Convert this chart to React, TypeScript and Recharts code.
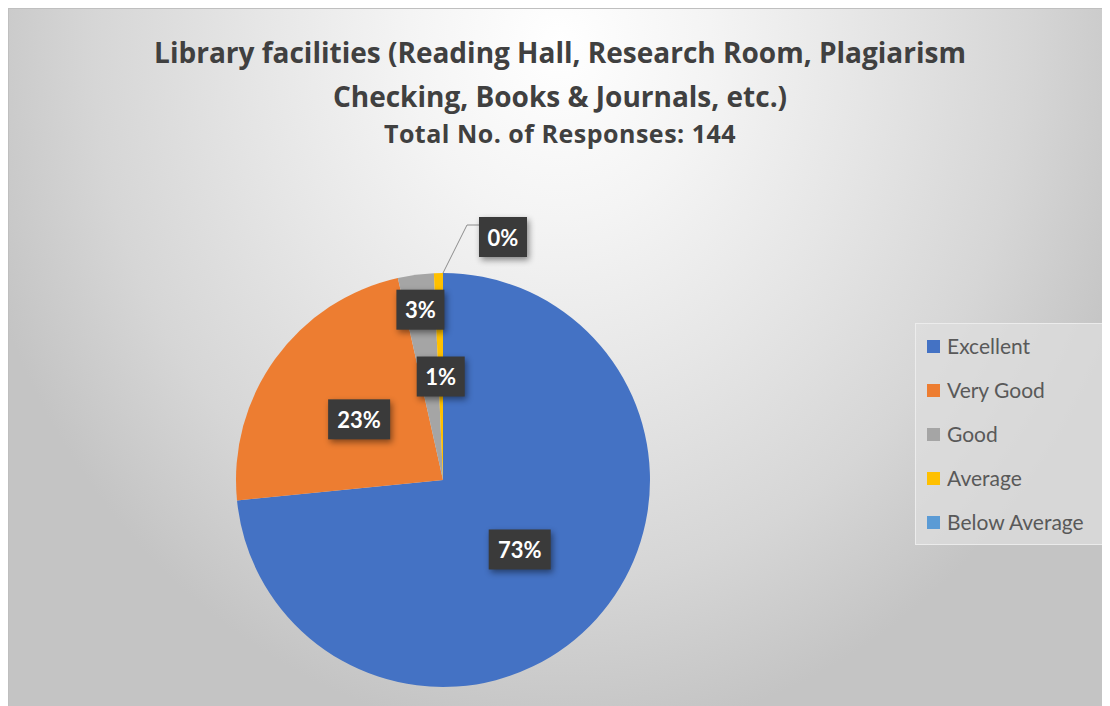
import React from "react";
import { PieChart, Pie, Cell, Legend } from "recharts";

const categories = ["Excellent", "Very Good", "Good", "Average", "Below Average"];
const responses = [105, 33, 4, 1, 0];
const colors = ["#4472C4", "#ED7D31", "#A5A5A5", "#FFC000", "#5B9BD5"];
const titleLines = [
  "Library facilities (Reading Hall, Research Room, Plagiarism",
  "Checking, Books & Journals, etc.)",
];
const subtitle = "Total No. of Responses: 144";

const data = categories.map((name, i) => ({ name, value: responses[i], fill: colors[i] }));

// how far in (fraction of radius) each inside label sits
const labelRadius: Record<string, number> = {
  Excellent: 0.5,
  "Very Good": 0.5,
  Good: 0.83,
  Average: 0.5,
};

const FONT = "Lato, 'Open Sans', sans-serif";
const TITLE_FONT = "'Open Sans', Lato, sans-serif";
const RAD = Math.PI / 180;

function renderLabel(props: any) {
  const { cx, cy, midAngle, outerRadius, percent, name } = props;
  const text = `${Math.round(percent * 100)}%`;
  const w = text.length > 2 ? 62 : 48;
  const h = 40;
  const cos = Math.cos(-midAngle * RAD);
  const sin = Math.sin(-midAngle * RAD);
  let x: number;
  let y: number;
  let leader: React.ReactNode = null;
  if (percent === 0) {
    const ex = cx + outerRadius * cos;
    const ey = cy + outerRadius * sin;
    x = ex + 36 + w / 2;
    y = ey - 36;
    leader = (
      <polyline
        points={`${ex},${ey} ${ex + 24},${ey - 48} ${ex + 36},${ey - 48}`}
        fill="none"
        stroke="#8c8c8c"
        strokeWidth={1}
      />
    );
  } else {
    const r = outerRadius * (labelRadius[name] ?? 0.5);
    x = cx + r * cos;
    y = cy + r * sin;
  }
  return (
    <g key={`lbl-${name}`}>
      {leader}
      <rect
        x={x - w / 2}
        y={y - h / 2}
        width={w}
        height={h}
        fill="#3a3a3a"
        style={{ filter: "drop-shadow(2px 3px 3px rgba(0,0,0,0.45))" }}
      />
      <text
        x={x}
        y={y}
        textAnchor="middle"
        dominantBaseline="central"
        fill="#ffffff"
        fontFamily={FONT}
        fontWeight={700}
        fontSize={22}
      >
        {text}
      </text>
    </g>
  );
}

function renderLegend(props: any) {
  const payload = props.payload || [];
  // keep the legend in series order, not the order recharts hands back
  const items = categories.map((name, i) => {
    const p = payload.find((e: any) => e.value === name);
    return { name, color: (p && p.color) || colors[i] };
  });
  return (
    <div
      style={{
        width: 193,
        height: 222,
        boxSizing: "border-box",
        background: "rgba(222,222,222,0.75)",
        border: "1px solid rgba(240,240,240,0.8)",
        fontFamily: FONT,
      }}
    >
      {items.map((entry) => (
        <div key={entry.name} style={{ height: 44, display: "flex", alignItems: "center" }}>
          <span
            style={{
              display: "inline-block",
              width: 13,
              height: 13,
              marginLeft: 11,
              marginRight: 7,
              background: entry.color,
            }}
          />
          <span style={{ fontSize: 21, color: "#595959", marginTop: -2 }}>{entry.name}</span>
        </div>
      ))}
    </div>
  );
}

export default function App() {
  return (
    <div
      style={{
        position: "relative",
        width: 1102,
        height: 698,
        boxSizing: "border-box",
        borderTop: "1px solid #bfbfbf",
        borderLeft: "1px solid #bfbfbf",
        background:
          "radial-gradient(ellipse 55% 100% at 50% 5%, #ffffff 0%, #f4f4f4 25%, #e6e6e6 50%, #d6d6d6 77%, #c4c4c4 100%)",
        fontFamily: FONT,
      }}
    >
      <style>{`.recharts-pie-sectors { filter: drop-shadow(0px 6px 6px rgba(0,0,0,0.28)); }`}</style>
      <div
        style={{
          position: "absolute",
          left: 0,
          top: 21,
          width: 1102,
          textAlign: "center",
          color: "#404040",
          fontFamily: TITLE_FONT,
          fontWeight: 700,
          pointerEvents: "none",
        }}
      >
        {titleLines.map((line) => (
          <div key={line} style={{ fontSize: 28, lineHeight: "44px", height: 44 }}>
            {line}
          </div>
        ))}
        <div style={{ fontSize: 25, lineHeight: "30px", letterSpacing: 0.5 }}>{subtitle}</div>
      </div>
      <PieChart
        width={1101}
        height={697}
        margin={{ top: 0, right: 0, bottom: 0, left: 0 }}
        style={{ position: "absolute", left: 0, top: 0 }}
      >
        <Pie
          data={data}
          dataKey="value"
          nameKey="name"
          cx={434}
          cy={471}
          outerRadius={207}
          startAngle={90}
          endAngle={-270}
          stroke="none"
          label={renderLabel}
          labelLine={false}
          isAnimationActive={false}
        >
          {data.map((d, i) => (
            <Cell key={d.name} fill={colors[i]} />
          ))}
        </Pie>
        <Legend
          content={renderLegend}
          layout="vertical"
          wrapperStyle={{ position: "absolute", left: 906, top: 314, width: 193, height: 222 }}
        />
      </PieChart>
    </div>
  );
}
